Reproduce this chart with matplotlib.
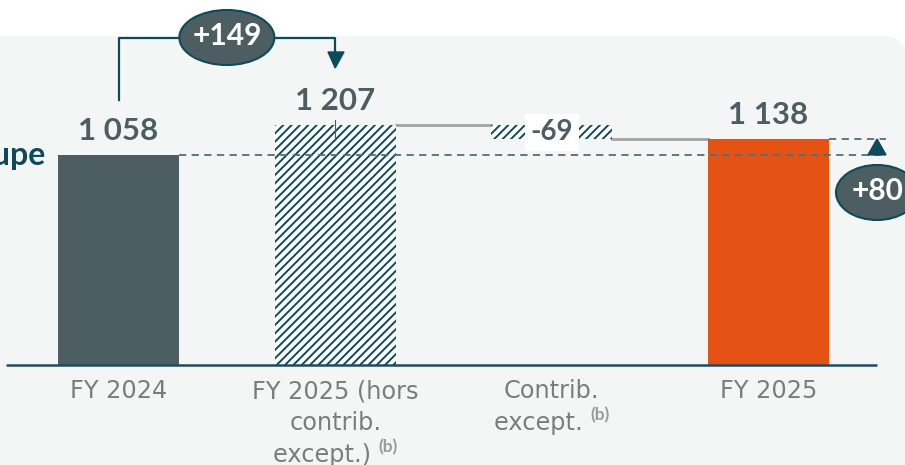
import matplotlib
matplotlib.use("Agg")
import matplotlib.pyplot as plt
from matplotlib.patches import Ellipse, FancyBboxPatch, Polygon
from matplotlib.transforms import IdentityTransform

# ---------------- data ----------------
categories = ["FY 2024", "FY 2025 (hors\ncontrib.\nexcept.)", "Contrib.\nexcept.", "FY 2025"]
footnotes = ["", "(b)", "(b)", ""]
values = [1058, 1207, -69, 1138]          # waterfall steps
value_labels = ["1 058", "1 207", "-69", "1 138"]
delta_prev = "+149"
delta_total = "+80"
side_label = "Groupe"

# ---------------- style ----------------
W, H = 905, 465
DARK = "#4d5e63"
TEAL = "#0d4a5a"
ORANGE = "#e45214"
GREY_TXT = "#7c7c7c"
PANEL = "#f4f5f5"
plt.rcParams["hatch.color"] = TEAL
plt.rcParams["hatch.linewidth"] = 1.4

fig = plt.figure(figsize=(W / 100, H / 100), dpi=100)
fig.patch.set_facecolor("white")

ax = fig.add_axes([0, 0, 1, 1])
ax.set_facecolor("none")
k = 0.1986            # px per unit
base_px = 365          # baseline in px from top
dx = 216.7             # px per category
x0 = 118.5             # px of first category
ax.set_ylim(-(H - base_px) / k, base_px / k)
ax.set_xlim(-x0 / dx, (W - x0) / dx)
ax.axis("off")

# background panel (pixel coords)
panel = FancyBboxPatch((-40, -40), 948, H - 36 + 40,
                       boxstyle="round,pad=0,rounding_size=26",
                       transform=IdentityTransform(), facecolor=PANEL,
                       edgecolor="none", zorder=0, clip_on=False)
ax.add_patch(panel)


def py(p):   # px from top -> data y
    return (base_px - p) / k


def px(p):   # px from left -> data x
    return (p - x0) / dx


bw = 121 / dx
xs = list(range(len(categories)))

# ---------------- bars ----------------
start, mid, contrib, end = values
ax.bar(xs[0], start, width=bw, color=DARK, zorder=3)
ax.bar(xs[1], mid, width=bw, color="white", hatch="////", edgecolor=TEAL, linewidth=0, zorder=3)
ax.bar(xs[2], -contrib, bottom=mid + contrib, width=bw, color="white", hatch="////",
       edgecolor=TEAL, linewidth=0, zorder=3)
ax.bar(xs[3], end, width=bw, color=ORANGE, zorder=3)

# connectors
ax.plot([xs[1] + bw / 2, xs[2] - bw / 2], [mid, mid], color="#a3a3a3", lw=2, zorder=2)
ax.plot([xs[2] + bw / 2, xs[3] - bw / 2], [mid + contrib, mid + contrib], color="#a3a3a3", lw=2, zorder=2)

# dashed reference lines
ax.plot([xs[0] + bw / 2, px(886)], [start, start], color="#4f6f7a", lw=1.3,
        ls=(0, (4, 3)), zorder=4)
ax.plot([xs[3] + bw / 2, px(886)], [end, end], color="#4f6f7a", lw=1.3,
        ls=(0, (4, 3)), zorder=4)

# baseline axis
ax.plot([px(6), px(877)], [0, 0], color="#1f4d5c", lw=1.8, zorder=5, solid_capstyle="butt")

# value labels
for i, (v, lab) in enumerate(zip([start, mid, None, end], value_labels)):
    if v is None:
        continue
    ax.annotate(lab, (xs[i], v), xytext=(0, 11), textcoords="offset points",
                ha="center", va="baseline", fontsize=22.5, fontweight="bold",
                color=DARK, family="Lato", zorder=6)
ax.text(xs[2], mid + contrib / 2, value_labels[2], ha="center", va="center",
        fontsize=20, fontweight="bold", color=DARK, family="Lato", zorder=6,
        bbox=dict(boxstyle="square,pad=0.2", fc="white", ec="none"))

# small tick inside hatched bar
ax.plot([xs[1], xs[1]], [py(120), py(140)], color="#555555", lw=0.8, zorder=6)

# bracket with +149
bx0, bx1 = xs[0], xs[1]
ax.plot([bx0, bx0, bx1, bx1], [py(100), py(38), py(38), py(54)], color=TEAL, lw=1.6, zorder=6)
ax.add_patch(Polygon([[px(328), py(52)], [px(344), py(52)], [bx1, py(68)]],
                     closed=True, color=TEAL, zorder=6))
ax.add_patch(Ellipse((0.5, py(37.5)), 95 / dx, 55 / k, facecolor=DARK,
                     edgecolor=TEAL, lw=1.5, zorder=7))
ax.text(0.5, py(36.5), delta_prev, ha="center", va="center", fontsize=21.5,
        fontweight="bold", color="white", family="Lato", zorder=8)

# triangle and +80
ax.add_patch(Polygon([[px(868), start], [px(886), start], [px(877), end]],
                     closed=True, color=TEAL, zorder=6))
ax.add_patch(Ellipse((px(877), py(192.5)), 82 / dx, 55 / k, facecolor=DARK,
                     edgecolor=TEAL, lw=1.5, zorder=7, clip_on=False))
ax.text(px(878), py(191), delta_total, ha="center", va="center", fontsize=21.5,
        fontweight="bold", color="white", family="Lato", zorder=8)

# side label (cut off in the reference)
ax.text(px(46), py(165), side_label, ha="right", va="baseline", fontsize=23,
        fontweight="bold", color=TEAL, family="Lato", zorder=6)

# category labels with superscripts
fig.canvas.draw()
renderer = fig.canvas.get_renderer()
line_step = 32
for i, (cat, fn) in enumerate(zip(categories, footnotes)):
    lines = cat.split("\n")
    for j, line in enumerate(lines):
        ybase = py(398 + j * line_step)
        last = (j == len(lines) - 1) and fn
        if not last:
            ax.text(xs[i], ybase, line, ha="center", va="baseline", fontsize=17.3,
                    color=GREY_TXT, family="DejaVu Sans", zorder=6)
        else:
            t1 = ax.text(0, ybase, line + " ", ha="left", va="baseline", fontsize=17.3,
                         color=GREY_TXT, family="DejaVu Sans", zorder=6)
            t2 = ax.text(0, ybase, fn, ha="left", va="baseline", fontsize=12.5,
                         fontweight="bold", color="#9a9a9a", family="Lato", zorder=6)
            w1 = t1.get_window_extent(renderer).width
            w2 = t2.get_window_extent(renderer).width
            total = (w1 + w2) / dx
            left = xs[i] - total / 2
            t1.set_x(left)
            t2.set_x(left + w1 / dx)
            t2.set_y(ybase + 10 / k)

fig.savefig("out.png", dpi=100, facecolor="white")
